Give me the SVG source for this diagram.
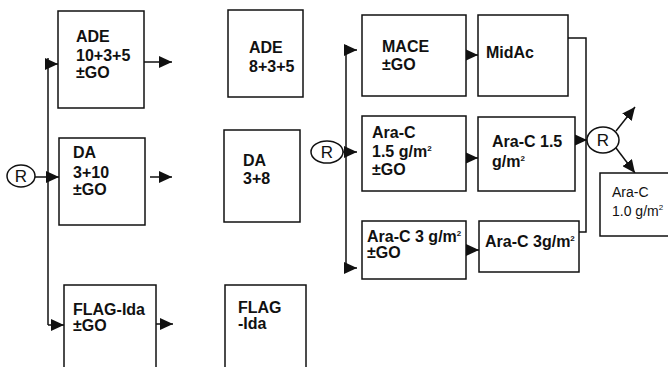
<svg xmlns="http://www.w3.org/2000/svg" width="668" height="367" viewBox="0 0 668 367">
<defs>
<style>
.box{fill:#fff;stroke:#111;stroke-width:1.5}
.t{font-family:"Liberation Sans",Arial,sans-serif;font-size:16px;font-weight:bold;fill:#111}
.tn{font-family:"Liberation Sans",Arial,sans-serif;font-size:14px;fill:#111}
.sup{font-size:8px}
.ln{fill:none;stroke:#111;stroke-width:1.5}
.r{fill:#fff;stroke:#111;stroke-width:1.5}
.rt{font-family:"Liberation Sans",Arial,sans-serif;font-size:17px;fill:#111;text-anchor:middle}
</style>
<marker id="ah" viewBox="0 0 13 12" refX="13" refY="6" markerWidth="13" markerHeight="12" orient="auto" markerUnits="userSpaceOnUse"><path d="M0,0 L13,6 L0,12 z" fill="#111"/></marker>
</defs>
<rect width="668" height="367" fill="#fff"/>

<g id="connectors">
<path class="ln" d="M48,325 L48,58" />
<path class="ln" d="M47,64 L58,64" marker-end="url(#ah)"/>
<path class="ln" d="M35,177 L59,177" marker-end="url(#ah)"/>
<path class="ln" d="M48,325 L64,325" marker-end="url(#ah)"/>
<path class="ln" d="M144,62 L172,62" marker-end="url(#ah)"/>
<path class="ln" d="M150,177 L172,177" marker-end="url(#ah)"/>
<path class="ln" d="M156,324 L173,324" marker-end="url(#ah)"/>
<path class="ln" d="M346,45 L346,268"/>
<path class="ln" d="M346,50 L357,50" marker-end="url(#ah)"/>
<path class="ln" d="M343,152 L357,152" marker-end="url(#ah)"/>
<path class="ln" d="M346,268 L357,268" marker-end="url(#ah)"/>
<path class="ln" d="M466,55 L478,55" marker-end="url(#ah)"/>
<path class="ln" d="M466,158 L478,158" marker-end="url(#ah)"/>
<path class="ln" d="M466,250 L479,250" marker-end="url(#ah)"/>
<path class="ln" d="M568,38 L586,38 L586,232 L579,232"/>
<path class="ln" d="M575,140 L587,140" marker-end="url(#ah)"/>
<path class="ln" d="M616,131 L635,107" marker-end="url(#ah)"/>
<path class="ln" d="M616,148 L635,173" marker-end="url(#ah)"/>
</g>

<g id="r1"><ellipse class="r" cx="21" cy="176" rx="14" ry="11"/><text class="rt" x="21" y="182">R</text></g>
<g id="r2"><ellipse class="r" cx="327" cy="152" rx="16" ry="11"/><text class="rt" x="327" y="158">R</text></g>
<g id="r3"><ellipse class="r" cx="603" cy="140" rx="16" ry="13"/><text class="rt" x="603" y="146">R</text></g>

<g id="ade1"><rect class="box" x="58" y="11" width="86" height="97"/>
<text class="t" x="76" y="42">ADE</text><text class="t" x="76" y="61">10+3+5</text><text class="t" x="76" y="78">±GO</text></g>
<g id="da1"><rect class="box" x="59" y="138" width="86" height="87"/>
<text class="t" x="73" y="158">DA</text><text class="t" x="73" y="178">3+10</text><text class="t" x="73" y="195">±GO</text></g>
<g id="flag1"><rect class="box" x="64" y="285" width="92" height="95"/>
<text class="t" x="73" y="315">FLAG-Ida</text><text class="t" x="73" y="331">±GO</text></g>

<g id="ade2"><rect class="box" x="228" y="10" width="75" height="87"/>
<text class="t" x="249" y="53">ADE</text><text class="t" x="249" y="72">8+3+5</text></g>
<g id="da2"><rect class="box" x="224" y="130" width="76" height="92"/>
<text class="t" x="243" y="166">DA</text><text class="t" x="243" y="184">3+8</text></g>
<g id="flag2"><rect class="box" x="225" y="285" width="81" height="95"/>
<text class="t" x="238" y="313">FLAG</text><text class="t" x="238" y="329">-Ida</text></g>

<g id="mace"><rect class="box" x="362" y="15" width="104" height="81"/>
<text class="t" x="382" y="52">MACE</text><text class="t" x="382" y="70">±GO</text></g>
<g id="arac15go"><rect class="box" x="362" y="116" width="104" height="75"/>
<text class="t" x="372" y="138">Ara-C</text><text class="t" x="372" y="157">1.5 g/m<tspan class="sup" dy="-6">2</tspan></text><text class="t" x="372" y="175">±GO</text></g>
<g id="arac3go"><rect class="box" x="362" y="221" width="104" height="58"/>
<text class="t" x="367" y="242">Ara-C 3 g/m<tspan class="sup" dy="-6">2</tspan></text><text class="t" x="367" y="258">±GO</text></g>

<g id="midac"><rect class="box" x="478" y="15" width="90" height="81"/>
<text class="t" x="486" y="58">MidAc</text></g>
<g id="arac15"><rect class="box" x="478" y="117" width="97" height="74"/>
<text class="t" x="492" y="147">Ara-C 1.5</text><text class="t" x="492" y="167">g/m<tspan class="sup" dy="-6">2</tspan></text></g>
<g id="arac3"><rect class="box" x="479" y="221" width="100" height="51"/>
<text class="t" x="485" y="247">Ara-C 3g/m<tspan class="sup" dy="-6">2</tspan></text></g>

<g id="arac10"><rect class="box" x="600" y="173" width="80" height="63"/>
<text class="tn" x="612" y="197">Ara-C</text><text class="tn" x="612" y="216">1.0 g/m<tspan class="sup" dy="-6">2</tspan></text></g>
</svg>
